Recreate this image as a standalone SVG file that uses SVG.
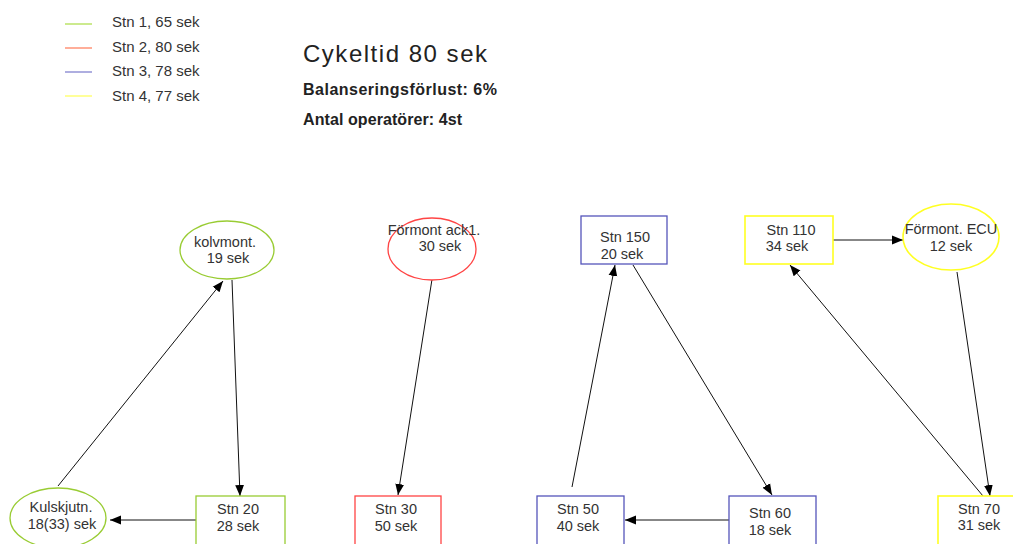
<svg xmlns="http://www.w3.org/2000/svg" width="1013" height="544" viewBox="0 0 1013 544">
  <style>
    text { font-family: "Liberation Sans", Arial, sans-serif; fill: #222; }
    .lbl { font-size: 15px; fill: #333; }
    .node text { font-size: 14.5px; fill: #333; text-anchor: middle; }
    .st1 { fill: #fff; stroke: #99cc33; stroke-width: 1.3; }
    .st2 { fill: #fff; stroke: #ff4444; stroke-width: 1.3; }
    .st3 { fill: #fff; stroke: #5555bb; stroke-width: 1.3; }
    .st4 { fill: #fff; stroke: #ffff22; stroke-width: 1.6; }
    .edge { stroke: #111; stroke-width: 1; fill: none; marker-end: url(#arr); }
  </style>
  <defs>
    <marker id="arr" viewBox="0 0 10 10" refX="10" refY="5" markerWidth="11" markerHeight="11" markerUnits="userSpaceOnUse" orient="auto">
      <path d="M0,1 L10,5 L0,9 Z" fill="#000"/>
    </marker>
  </defs>
  <rect width="1013" height="544" fill="#fff"/>

  <!-- legend -->
  <g id="legend">
    <line x1="65" y1="24" x2="92" y2="24" stroke="#aadd44" stroke-width="1.2"/>
    <line x1="65" y1="48" x2="92" y2="48" stroke="#ff7755" stroke-width="1.2"/>
    <line x1="65" y1="72" x2="92" y2="72" stroke="#7777cc" stroke-width="1.2"/>
    <line x1="65" y1="96" x2="92" y2="96" stroke="#ffff55" stroke-width="1.2"/>
    <text class="lbl" x="112" y="27">Stn 1, 65 sek</text>
    <text class="lbl" x="112" y="52">Stn 2, 80 sek</text>
    <text class="lbl" x="112" y="76">Stn 3, 78 sek</text>
    <text class="lbl" x="112" y="101">Stn 4, 77 sek</text>
  </g>

  <!-- summary -->
  <g id="summary">
    <text x="303" y="62" font-size="24" textLength="184" lengthAdjust="spacing">Cykeltid 80 sek</text>
    <text x="303" y="95" font-size="16" font-weight="bold" textLength="194" lengthAdjust="spacing">Balanseringsförlust: 6%</text>
    <text x="303" y="125" font-size="16" font-weight="bold" textLength="159" lengthAdjust="spacing">Antal operatörer: 4st</text>
  </g>

  <!-- connectors -->
  <g id="connectors">
    <line class="edge" x1="58" y1="486" x2="223" y2="281"/>
    <line class="edge" x1="232" y1="280" x2="240" y2="496"/>
    <line class="edge" x1="196" y1="520" x2="110" y2="520"/>
    <line class="edge" x1="433" y1="273" x2="398" y2="495"/>
    <line class="edge" x1="572" y1="487" x2="615" y2="265"/>
    <line class="edge" x1="633" y1="265" x2="772" y2="495"/>
    <line class="edge" x1="729" y1="520" x2="625" y2="520"/>
    <line class="edge" x1="833" y1="240" x2="903" y2="240"/>
    <line class="edge" x1="957" y1="272" x2="990" y2="496"/>
    <line class="edge" x1="983" y1="496" x2="790" y2="265"/>
  </g>

  <!-- station 1 -->
  <g id="kolvmont" class="node">
    <ellipse class="st1" cx="227" cy="250" rx="47" ry="29"/>
    <text x="225" y="247">kolvmont.</text>
    <text x="228" y="263">19 sek</text>
  </g>
  <g id="kulskjutn" class="node">
    <ellipse class="st1" cx="58" cy="518" rx="48" ry="30"/>
    <text x="61" y="512" font-size="15">Kulskjutn.</text>
    <text x="62" y="529" font-size="15">18(33) sek</text>
  </g>
  <g id="stn20" class="node">
    <rect class="st1" x="196" y="496" width="89" height="52"/>
    <text x="238" y="514">Stn 20</text>
    <text x="238" y="531">28 sek</text>
  </g>

  <!-- station 2 -->
  <g id="formont-ack1" class="node">
    <ellipse class="st2" cx="432" cy="249" rx="44" ry="31"/>
    <text x="434" y="235">Förmont ack1.</text>
    <text x="440" y="251">30 sek</text>
  </g>
  <g id="stn30" class="node">
    <rect class="st2" x="355" y="496" width="86" height="52"/>
    <text x="396" y="514">Stn 30</text>
    <text x="396" y="531">50 sek</text>
  </g>

  <!-- station 3 -->
  <g id="stn150" class="node">
    <rect class="st3" x="581" y="216" width="86" height="48"/>
    <text x="625" y="242">Stn 150</text>
    <text x="622" y="259">20 sek</text>
  </g>
  <g id="stn50" class="node">
    <rect class="st3" x="537" y="496" width="87" height="52"/>
    <text x="578" y="514">Stn 50</text>
    <text x="578" y="531">40 sek</text>
  </g>
  <g id="stn60" class="node">
    <rect class="st3" x="729" y="496" width="87" height="52"/>
    <text x="770" y="518">Stn 60</text>
    <text x="770" y="535">18 sek</text>
  </g>

  <!-- station 4 -->
  <g id="stn110" class="node">
    <rect class="st4" x="745" y="216" width="88" height="48"/>
    <text x="791" y="235">Stn 110</text>
    <text x="787" y="251">34 sek</text>
  </g>
  <g id="formont-ecu" class="node">
    <ellipse class="st4" cx="951" cy="237" rx="48" ry="33"/>
    <text x="951" y="234">Förmont. ECU</text>
    <text x="951" y="251">12 sek</text>
  </g>
  <g id="stn70" class="node">
    <rect class="st4" x="938" y="496" width="86" height="52"/>
    <text x="979" y="514">Stn 70</text>
    <text x="979" y="530">31 sek</text>
  </g>
</svg>
